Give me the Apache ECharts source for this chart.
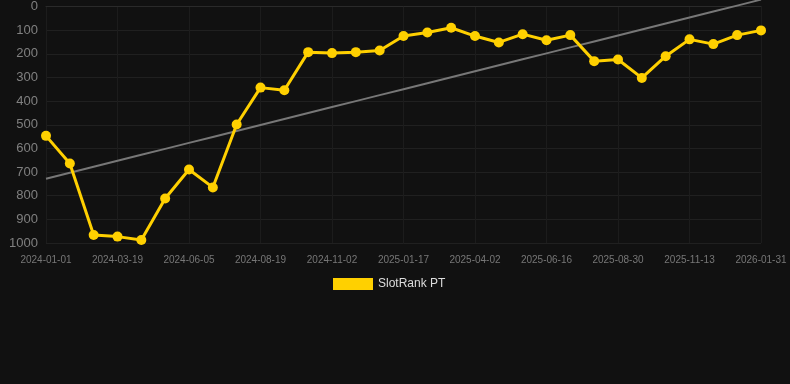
<!DOCTYPE html>
<html>
<head>
<meta charset="utf-8">
<script src="https://cdn.jsdelivr.net/npm/echarts@6/dist/echarts.min.js"></script>
<style>
html,body{margin:0;padding:0;background:#111111;}
#c{width:790px;height:384px;}
</style>
</head>
<body>
<div id="c"></div>
<script>
var categories = [
  '2024-01-01','2024-01-27','2024-02-22','2024-03-19','2024-04-14','2024-05-10',
  '2024-06-05','2024-06-30','2024-07-25','2024-08-19','2024-09-13','2024-10-08',
  '2024-11-02','2024-11-27','2024-12-23','2025-01-17','2025-02-11','2025-03-08',
  '2025-04-02','2025-04-27','2025-05-22','2025-06-16','2025-07-11','2025-08-05',
  '2025-08-30','2025-09-24','2025-10-19','2025-11-13','2025-12-09','2026-01-05',
  '2026-01-31'
];
var rankValues = [
  547, 664, 966, 973, 987, 812, 689, 765, 499, 343, 354, 193,
  197, 193, 186, 125, 110, 90, 125, 152, 117, 143, 121, 231,
  224, 302, 210, 139, 159, 121, 101
];
var seriesName = 'SlotRank PT';

// linear regression trend over the series
function trend(vals){
  var n = vals.length, sx=0, sy=0, sxy=0, sxx=0;
  for (var i=0;i<n;i++){ sx+=i; sy+=vals[i]; sxy+=i*vals[i]; sxx+=i*i; }
  var b = (n*sxy - sx*sy)/(n*sxx - sx*sx);
  var a = (sy - b*sx)/n;
  return vals.map(function(_,i){ return a + b*i; });
}
var trendValues = trend(rankValues);

var chart = echarts.init(document.getElementById('c'), null, {renderer:'canvas'});
chart.setOption({
  backgroundColor: '#111111',
  animation: false,
  grid: {left: 46, right: 29, top: 6, bottom: 141, containLabel: false},
  legend: {
    data: [{name: seriesName, icon: 'rect'}],
    top: 278,
    left: 333,
    padding: 0,
    itemWidth: 40,
    itemHeight: 12,
    itemGap: 6,
    textStyle: {color: '#dddddd', fontSize: 12, fontFamily: 'Liberation Sans, Arial, sans-serif'}
  },
  xAxis: {
    type: 'category',
    data: categories,
    boundaryGap: false,
    axisLine: {show: true, lineStyle: {color: '#2a2a2a'}},
    axisTick: {show: false},
    axisLabel: {interval: 2, color: '#777777', fontSize: 10, margin: 12, fontFamily: 'Liberation Sans, Arial, sans-serif'},
    splitLine: {show: true, interval: 2, lineStyle: {color: '#1c1c1c'}}
  },
  yAxis: {
    type: 'value',
    inverse: true,
    min: 0,
    max: 1000,
    interval: 100,
    axisLine: {show: false},
    axisTick: {show: false},
    axisLabel: {color: '#808080', fontSize: 13, margin: 8, fontFamily: 'Liberation Sans, Arial, sans-serif',
      formatter: function(v){ return String(v); }},
    splitLine: {show: true, lineStyle: {color: '#202020'}}
  },
  series: [
    {
      name: 'trend',
      type: 'line',
      data: trendValues,
      symbol: 'none',
      clip: false,
      silent: true,
      lineStyle: {color: '#777777', width: 2},
      z: 1
    },
    {
      name: seriesName,
      type: 'line',
      data: rankValues,
      symbol: 'circle',
      symbolSize: 10,
      clip: false,
      itemStyle: {color: '#FFD000'},
      lineStyle: {color: '#FFD000', width: 3},
      z: 3
    }
  ]
});
</script>
</body>
</html>
